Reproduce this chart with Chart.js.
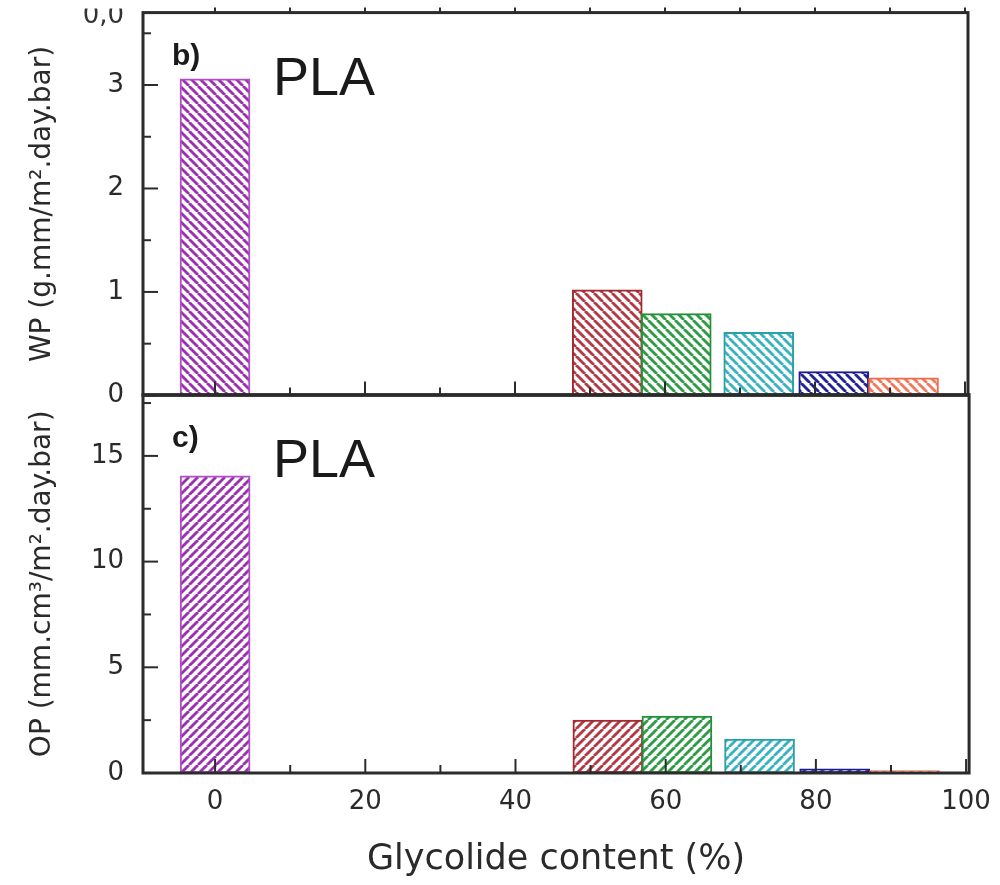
<!DOCTYPE html>
<html><head><meta charset="utf-8">
<script src="https://cdn.jsdelivr.net/npm/chart.js@4.4.1/dist/chart.umd.min.js"></script>
<style>
html,body{margin:0;padding:0;background:#fff;}
#wrap{position:relative;width:1000px;height:885px;overflow:hidden;background:#fff;}
canvas{position:absolute;left:0;}
#c1{top:-22px}
#c2{top:360px}
</style></head><body>
<div id="wrap"><canvas id="c1" width="1000" height="452"></canvas><canvas id="c2" width="1005" height="525"></canvas></div>
<script>
const glycolide = [0, 52.3, 61.5, 72.5, 82.5, 91.8];
const wpValues = [3.06, 1.02, 0.79, 0.61, 0.23, 0.17];
const opValues = [14.06, 2.5, 2.69, 1.6, 0.2, 0.12];
const xTicks = [0, 20, 40, 60, 80, 100];
const xMinorTicks = [10, 30, 50, 70, 90];
const wpTicks = [0, 1, 2, 3];
const wpMinorTicks = [0.5, 1.5, 2.5, 3.5];
const opTicks = [0, 5, 10, 15];
const opMinorTicks = [2.5, 7.5, 12.5, 17.5];
const strokeColors = ['#b04cc4', '#a02a2e', '#23913a', '#2a9fa6', '#1c1c8c', '#ee6a4a'];
const stripeColors = ['#9b30b0', '#b23a44', '#2f9c45', '#3bb2c0', '#22229a', '#f07a5c'];

function hatch(color, dir) {
  const p = 9, c = document.createElement('canvas');
  c.width = p; c.height = p;
  const g = c.getContext('2d');
  g.fillStyle = '#fff'; g.fillRect(0, 0, p, p);
  g.strokeStyle = color; g.lineWidth = 2.8;
  for (const k of [-p, 0, p]) {
    g.beginPath();
    if (dir === 'back') { g.moveTo(k, 0); g.lineTo(k + p, p); }
    else { g.moveTo(k, p); g.lineTo(k + p, 0); }
    g.stroke();
  }
  return g.createPattern(c, 'repeat');
}

const framePlugin = {
  id: 'frame',
  afterDatasetsDraw(chart, args, opts) {
    const { ctx, chartArea: a, scales: { x, y } } = chart;
    ctx.save();
    ctx.strokeStyle = '#2b2b2b';
    ctx.lineWidth = 3;
    ctx.strokeRect(a.left, a.top, a.right - a.left, a.bottom - a.top);
    ctx.lineWidth = 2;
    const tick = (x1, y1, x2, y2) => { ctx.beginPath(); ctx.moveTo(x1, y1); ctx.lineTo(x2, y2); ctx.stroke(); };
    opts.yMajor.forEach(v => { const py = y.getPixelForValue(v); tick(a.left, py, a.left + 15, py); });
    opts.yMinor.forEach(v => { const py = y.getPixelForValue(v); if (py > a.top + 2) tick(a.left, py, a.left + 8, py); });
    xTicks.forEach(v => { const px = x.getPixelForValue(v); tick(px, a.bottom, px, a.bottom - 14); });
    xMinorTicks.forEach(v => { const px = x.getPixelForValue(v); tick(px, a.bottom, px, a.bottom - 8); });
    if (opts.topTicks) {
      xTicks.concat(xMinorTicks).forEach(v => { const px = x.getPixelForValue(v); tick(px, a.top, px, a.top - 5); });
    }
    ctx.fillStyle = '#1a1a1a';
    ctx.textBaseline = 'alphabetic';
    ctx.textAlign = 'left';
    ctx.font = 'bold 30px "Liberation Sans"';
    ctx.fillText(opts.panel, a.left + 29, a.top + 52);
    ctx.font = '54px "Liberation Sans"';
    ctx.fillText('PLA', a.left + 130, a.top + 82);
    if (opts.cutLabel) {
      ctx.save();
      ctx.beginPath();
      ctx.rect(0, a.top - 4, a.left, 40);
      ctx.clip();
      ctx.fillStyle = '#333';
      ctx.textAlign = 'right';
      ctx.font = '26px "DejaVu Sans"';
      ctx.fillText(opts.cutLabel, a.left - 19, a.top + 10);
      ctx.restore();
    }
    ctx.restore();
  }
};

function makeChart(id, values, dir, yTicks, yMinor, yMax, yTitle, bottom) {
  return new Chart(document.getElementById(id), {
    type: 'bar',
    data: {
      datasets: [{
        data: glycolide.map((g, i) => ({ x: g, y: values[i] })),
        backgroundColor: stripeColors.map(c => hatch(c, dir)),
        borderColor: strokeColors,
        borderWidth: 2,
        borderSkipped: false,
        barThickness: 70
      }]
    },
    options: {
      responsive: false,
      animation: false,
      layout: { padding: bottom ? { top: 5, right: 32, left: 0, bottom: 0 } : { top: 13, right: 32, left: 0, bottom: 6 } },
      plugins: {
        legend: { display: false },
        tooltip: { enabled: false },
        frame: {
          yMajor: yTicks, yMinor: yMinor,
          panel: bottom ? 'c)' : 'b)',
          topTicks: !bottom,
          cutLabel: bottom ? null : '0,0'
        }
      },
      scales: {
        x: {
          type: 'linear', min: -9.6, max: 100.4, offset: false,
          grid: { display: false, drawTicks: false },
          border: { display: false },
          afterBuildTicks(s) { s.ticks = xTicks.map(v => ({ value: v })); },
          ticks: { display: bottom, font: { family: 'DejaVu Sans', size: 26 }, color: '#2a2a2a', padding: 14, maxRotation: 0 },
          title: bottom ? { display: true, text: 'Glycolide content (%)', font: { family: 'DejaVu Sans', size: 35 }, color: '#2a2a2a', padding: { top: 0, bottom: 4 } } : { display: false },
          afterFit(s) { s.height = bottom ? 112 : 0; }
        },
        y: {
          min: 0, max: yMax,
          grid: { display: false, drawTicks: false },
          border: { display: false },
          afterBuildTicks(s) { s.ticks = yTicks.map(v => ({ value: v })); },
          ticks: { font: { family: 'DejaVu Sans', size: 26 }, color: '#2a2a2a', padding: 19 },
          title: { display: true, text: yTitle, font: { family: 'DejaVu Sans', size: 28 }, color: '#2a2a2a', padding: { top: 26, bottom: 0 } },
          afterFit(s) { s.width = 143; }
        }
      }
    },
    plugins: [framePlugin]
  });
}

makeChart('c1', wpValues, 'back', wpTicks, wpMinorTicks, 3.7, 'WP (g.mm/m².day.bar)', false);
makeChart('c2', opValues, 'fwd', opTicks, opMinorTicks, 17.9, 'OP (mm.cm³/m².day.bar)', true);
</script>
</body></html>
